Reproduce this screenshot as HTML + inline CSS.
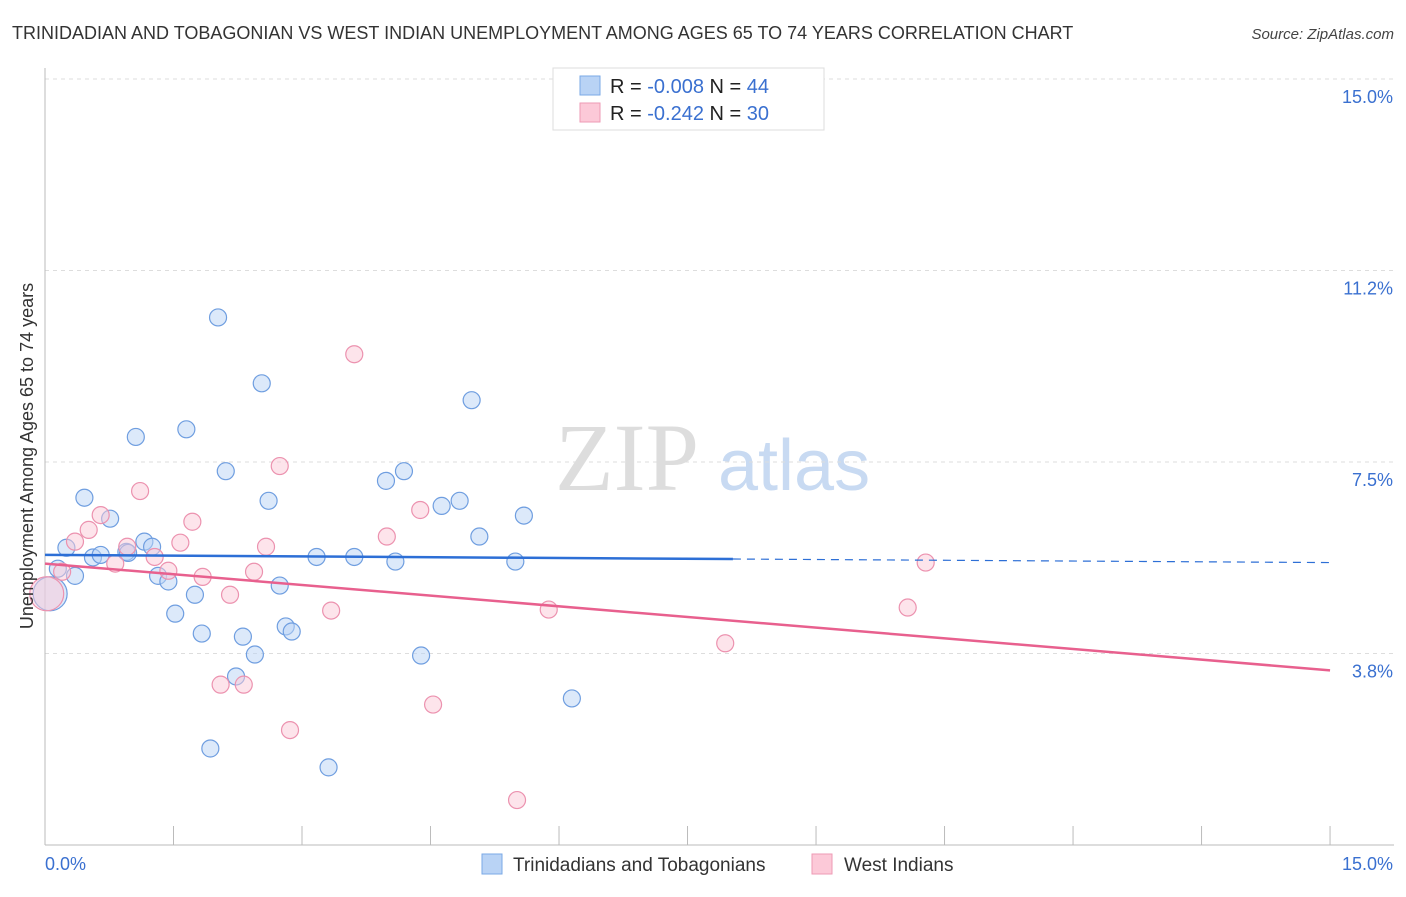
<!DOCTYPE html>
<html><head><meta charset="utf-8"><style>
body{margin:0;background:#fff;font-family:"Liberation Sans",sans-serif}
</style></head><body>
<svg id="chart" width="1406" height="892" xmlns="http://www.w3.org/2000/svg" font-family="Liberation Sans, sans-serif">
<text x="12" y="39" font-size="18" fill="#333">TRINIDADIAN AND TOBAGONIAN VS WEST INDIAN UNEMPLOYMENT AMONG AGES 65 TO 74 YEARS CORRELATION CHART</text>
<text x="1394" y="39" font-size="15" fill="#444" text-anchor="end" font-style="italic">Source: ZipAtlas.com</text>
<text x="555" y="490" font-size="96" fill="#ddd" font-family="Liberation Serif, serif">ZIP</text>
<text x="718" y="490" font-size="72" fill="#c8daf2">atlas</text>
<g id="grid"></g>
<g id="axes"></g>
<g id="marks"></g>
<text transform="translate(33,456) rotate(-90)" font-size="18" fill="#333" text-anchor="middle">Unemployment Among Ages 65 to 74 years</text>
<g>
<rect x="553" y="68" width="271" height="62" fill="#fff" stroke="#ddd"/>
<rect x="580" y="76" width="20" height="19" fill="#b9d3f5" stroke="#7aa8e6"/>
<rect x="580" y="103" width="20" height="19" fill="#fcc9d8" stroke="#ee9ab4"/>
<text x="610" y="93" font-size="20" fill="#222">R = <tspan fill="#3a70d0">-0.008</tspan>   N = <tspan fill="#3a70d0">44</tspan></text>
<text x="610" y="120" font-size="20" fill="#222">R =  <tspan fill="#3a70d0">-0.242</tspan>   N = <tspan fill="#3a70d0">30</tspan></text>
</g>
<g>
<rect x="482" y="854" width="20" height="20" fill="#b9d3f5" stroke="#7aa8e6"/>
<text x="513" y="871" font-size="19" fill="#333">Trinidadians and Tobagonians</text>
<rect x="812" y="854" width="20" height="20" fill="#fcc9d8" stroke="#ee9ab4"/>
<text x="844" y="871" font-size="19" fill="#333">West Indians</text>
</g>
</svg>
<script>
const yTicks=[3.75,7.5,11.25,15];
const yTickLabels=["3.8%","7.5%","11.2%","15.0%"];
const xTickCount=10;
const blueX=[0.06,0.15,0.25,0.35,0.46,0.56,0.65,0.76,0.95,1.06,1.16,1.25,1.32,1.44,1.52,1.65,1.75,1.83,1.93,2.02,2.11,2.23,2.31,2.45,2.53,2.61,2.74,2.81,2.88,3.17,3.31,3.61,3.98,4.09,4.19,4.39,4.63,4.84,4.98,5.07,5.49,5.59,6.15,0.97];
const blueY=[4.92,5.41,5.82,5.27,6.80,5.63,5.68,6.39,5.74,7.99,5.94,5.84,5.27,5.16,4.53,8.14,4.90,4.14,1.89,10.33,7.32,3.30,4.08,3.73,9.04,6.74,5.08,4.28,4.18,5.64,1.52,5.64,7.13,5.55,7.32,3.71,6.64,6.74,8.71,6.04,5.55,6.45,2.87,5.72];
const pinkX=[0.02,0.20,0.35,0.51,0.65,0.82,0.96,1.11,1.28,1.44,1.58,1.72,1.84,2.05,2.16,2.32,2.44,2.58,2.74,2.86,3.34,3.61,3.99,4.38,4.53,5.51,5.88,7.94,10.07,10.28];
const pinkY=[4.92,5.35,5.94,6.17,6.46,5.51,5.84,6.93,5.64,5.37,5.92,6.33,5.25,3.14,4.90,3.14,5.35,5.84,7.42,2.25,4.59,9.61,6.04,6.56,2.75,0.88,4.61,3.95,4.65,5.53];
const blueTrend=[5.68,5.53];
const pinkTrend=[5.51,3.42];
const blueSolidEnd=8.03;
const NS="http://www.w3.org/2000/svg";
const X=v=>45+v*85.67, Y=v=>845-v*51.07;
function mk(tag,attrs,parent){const e=document.createElementNS(NS,tag);for(const k in attrs)e.setAttribute(k,attrs[k]);document.getElementById(parent).appendChild(e);return e;}
yTicks.forEach((t,i)=>{
 const g=mk('line',{x1:45,x2:1394,y1:Y(t),y2:Y(t),stroke:'#ddd','stroke-dasharray':'4,4'},'grid');
 
 
 const l=mk('text',{x:1393,y:Y(t)+24,'font-size':18,fill:'#3a70d0','text-anchor':'end'},'axes');
 l.textContent=yTickLabels[i];
 
 
});
const ax=mk('line',{x1:45,x2:45,y1:68,y2:845,stroke:'#bbb'},'axes');


const bx=mk('line',{x1:45,x2:1394,y1:845,y2:845,stroke:'#bbb'},'axes');


for(let i=1;i<=xTickCount;i++){const t=mk('line',{x1:X(i*1.5),x2:X(i*1.5),y1:826,y2:845,stroke:'#bbb'},'axes');
 
 }
[["0.0%",45,"start"],["15.0%",1393,"end"]].forEach(a=>{const t=mk('text',{x:a[1],y:870,'font-size':18,fill:'#3a70d0','text-anchor':a[2]},'axes');t.textContent=a[0];
 
 });
function dots(xs,ys,fill,stroke,name){xs.forEach((x,i)=>{const c=mk('circle',{cx:X(x),cy:Y(ys[i]),r:(i==0?17:8.5),fill:fill,'fill-opacity':0.5,stroke:stroke,'stroke-width':1.2},'marks');
 
 });}
dots(blueX,blueY,'#b9d3f5','#6f9ee0','blue-point');
dots(pinkX,pinkY,'#fcc9d8','#ec92af','pink-point');
const bt=v=>blueTrend[0]+(blueTrend[1]-blueTrend[0])*v/15;
let l1=mk('line',{x1:X(0),y1:Y(bt(0)),x2:X(blueSolidEnd),y2:Y(bt(blueSolidEnd)),stroke:'#2d6fd6','stroke-width':2.5},'marks');


let l2=mk('line',{x1:X(blueSolidEnd),y1:Y(bt(blueSolidEnd)),x2:X(15),y2:Y(bt(15)),stroke:'#2d6fd6','stroke-width':1.2,'stroke-dasharray':'8,6'},'marks');


let l3=mk('line',{x1:X(0),y1:Y(pinkTrend[0]),x2:X(15),y2:Y(pinkTrend[1]),stroke:'#e8608e','stroke-width':2.5},'marks');


</script>
</body></html>
